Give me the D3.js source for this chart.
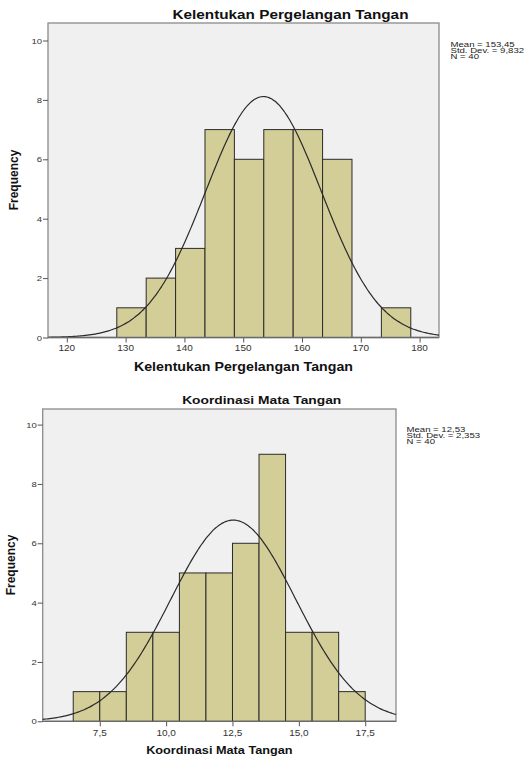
<!DOCTYPE html>
<html>
<head>
<meta charset="utf-8">
<script src="https://cdn.jsdelivr.net/npm/d3@7"></script>
<style>
  body { margin: 0; background: #fff; }
  svg { display: block; font-family: "Liberation Sans", Arial, sans-serif; }
</style>
</head>
<body>
<svg id="chart" width="528" height="757"></svg>
<script>
// Histogram 1: Kelentukan Pergelangan Tangan
const kelBinStart = [128.5, 133.5, 138.5, 143.5, 148.5, 153.5, 158.5, 163.5, 168.5, 173.5];
const kelCounts   = [1, 2, 3, 7, 6, 7, 7, 6, 0, 1];
const kelTicks    = [120, 130, 140, 150, 160, 170, 180];
const kelStats    = { mean: 153.45, sd: 9.832, n: 40, width: 5 };
const kelLegend   = ["Mean = 153,45", "Std. Dev. = 9,832", "N = 40"];

// Histogram 2: Koordinasi Mata Tangan
const korBinStart = [6.5, 7.5, 8.5, 9.5, 10.5, 11.5, 12.5, 13.5, 14.5, 15.5, 16.5];
const korCounts   = [1, 1, 3, 3, 5, 5, 6, 9, 3, 3, 1];
const korTicks    = [7.5, 10.0, 12.5, 15.0, 17.5];
const korStats    = { mean: 12.53, sd: 2.353, n: 40, width: 1 };
const korLegend   = ["Mean = 12,53", "Std. Dev. = 2,353", "N = 40"];

const yTicks = [0, 2, 4, 6, 8, 10];

const svg = d3.select('#chart');

// text that is a bit squashed vertically, like the SPSS export
function squashText(g, str, x, y, size, sy, opts = {}) {
    return g.append('text').text(str)
        .attr('transform', `translate(${x},${y}) scale(1,${sy})`)
        .attr('text-anchor', opts.anchor || 'start')
        .attr('font-weight', opts.bold ? 'bold' : null)
        .attr('font-size', size)
        .attr('fill', opts.fill || '#111');
}

function drawHist(cfg) {
    const g = svg.append('g');
    const x = d3.scaleLinear().domain(cfg.xDomain).range([cfg.left, cfg.right]);
    const y = d3.scaleLinear().domain([0, 10]).range([cfg.zeroY, cfg.zeroY - 10 * cfg.unit]);

    // plot background / frame
    g.append('rect')
        .attr('x', cfg.left).attr('y', cfg.top)
        .attr('width', cfg.right - cfg.left).attr('height', cfg.zeroY - cfg.top)
        .attr('fill', '#f0f0f0').attr('stroke', '#8a8a8a').attr('stroke-width', 1.3);

    // bars
    const bins = cfg.starts.map((s, i) => ({ x0: s, x1: s + cfg.stats.width, c: cfg.counts[i] }))
        .filter(d => d.c > 0);
    g.selectAll('.bar').data(bins).enter().append('rect')
        .attr('class', 'bar')
        .attr('x', d => x(d.x0)).attr('y', d => y(d.c))
        .attr('width', d => x(d.x1) - x(d.x0))
        .attr('height', d => y(0) - y(d.c))
        .attr('fill', '#d3ce98').attr('stroke', '#2b2b2b').attr('stroke-width', 1);

    // normal curve
    const s = cfg.stats;
    const k = s.n * s.width / (s.sd * Math.sqrt(2 * Math.PI));
    const pts = d3.range(0, 201).map(i => {
        const v = cfg.xDomain[0] + (cfg.xDomain[1] - cfg.xDomain[0]) * i / 200;
        return [v, k * Math.exp(-0.5 * ((v - s.mean) / s.sd) ** 2)];
    });
    g.append('path')
        .attr('d', d3.line().x(d => x(d[0])).y(d => y(d[1])).curve(d3.curveBasis)(pts))
        .attr('fill', 'none').attr('stroke', '#2a2a2a').attr('stroke-width', 1.2);

    // y axis (ticks from d3, labels redrawn squashed)
    const ya = g.append('g').attr('transform', `translate(${cfg.left},0)`)
        .call(d3.axisLeft(y).tickValues(yTicks).tickSize(5).tickFormat(''));
    ya.select('.domain').remove();
    ya.selectAll('line').attr('stroke', '#555');
    yTicks.forEach(t => squashText(g, d3.format('d')(t), cfg.left - 6, y(t) + 3, 9.5, 0.8,
        { anchor: 'end', fill: '#333' }));

    // x axis
    const xa = g.append('g').attr('transform', `translate(0,${cfg.zeroY})`)
        .call(d3.axisBottom(x).tickValues(cfg.ticks).tickSize(5).tickFormat(''));
    xa.select('.domain').remove();
    xa.selectAll('line').attr('stroke', '#555');
    cfg.ticks.forEach(t => squashText(g, cfg.fmt(t), x(t), cfg.zeroY + cfg.tickBase, 10, 0.85,
        { anchor: 'middle', fill: '#333' }));

    g.append('line').attr('x1', cfg.left).attr('x2', cfg.right)
        .attr('y1', cfg.zeroY).attr('y2', cfg.zeroY).attr('stroke', '#6a6a6a').attr('stroke-width', 1.3);

    // title
    squashText(g, cfg.title, cfg.titleX, cfg.titleY, cfg.titleSize, 0.82, { anchor: 'middle', bold: true });

    // x label
    squashText(g, cfg.title, (cfg.left + cfg.right) / 2, cfg.xLabelY, cfg.xLabelSize, 0.84,
        { anchor: 'middle', bold: true });

    // y label
    g.append('text').text('Frequency')
        .attr('transform', `translate(${cfg.yLabelX},${cfg.yLabelY}) rotate(-90)`)
        .attr('text-anchor', 'middle').attr('font-weight', 'bold').attr('font-size', 12)
        .attr('fill', '#111');

    // stats legend
    cfg.legend.forEach((d, i) => squashText(g, d, cfg.legX, cfg.legY + i * 6, 9.6, 0.68,
        { fill: '#222' }));
}

drawHist({
    title: 'Kelentukan Pergelangan Tangan',
    starts: kelBinStart, counts: kelCounts, ticks: kelTicks, stats: kelStats, legend: kelLegend,
    xDomain: [116.8, 183.3], left: 48, right: 439, top: 23, zeroY: 337.5, unit: 29.7,
    fmt: d3.format('d'), tickBase: 13.2,
    titleX: 290.5, titleY: 18.5, titleSize: 15.3,
    xLabelY: 370.5, xLabelSize: 14.2,
    yLabelX: 17.5, yLabelY: 180,
    legX: 450.5, legY: 47
});

drawHist({
    title: 'Koordinasi Mata Tangan',
    starts: korBinStart, counts: korCounts, ticks: korTicks, stats: korStats, legend: korLegend,
    xDomain: [5.35, 18.66], left: 42.7, right: 396, top: 409, zeroY: 721.3, unit: 29.67,
    fmt: d => d3.format('.1f')(d).replace('.', ','), tickBase: 14.5,
    titleX: 261.7, titleY: 404, titleSize: 13.8,
    xLabelY: 754, xLabelSize: 12.7,
    yLabelX: 15, yLabelY: 565,
    legX: 406.5, legY: 432
});
</script>
</body>
</html>
